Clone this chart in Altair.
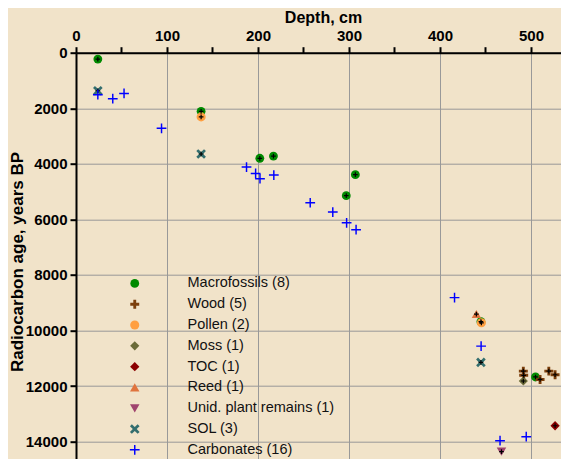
import altair as alt
import pandas as pd

# ---- data ----
series_names = ["Macrofossils", "Wood", "Pollen", "Moss", "TOC", "Reed",
                "Unid. plant remains", "SOL", "Carbonates"]

macro_depth = [24, 137.5, 202, 217, 307, 297, 445, 505]
macro_age = [230, 2110, 3800, 3720, 4390, 5145, 9680, 11670]
wood_depth = [491.6, 492, 510, 519.6, 526.5]
wood_age = [11460, 11610, 11760, 11460, 11590]
pollen_depth = [137.5, 445.5]
pollen_age = [2310, 9720]
moss_depth = [491.6]
moss_age = [11815]
toc_depth = [526.5]
toc_age = [13425]
reed_depth = [440]
reed_age = [9405]
unid_depth = [467.6]
unid_age = [14360]
sol_depth = [24, 137.5, 445]
sol_age = [1370, 3645, 11145]
carb_depth = [24, 40.4, 52.8, 94, 187.4, 197.4, 202.2, 217.4, 257.4, 282.2,
              297.4, 307.8, 416, 445.2, 494.8, 466]
carb_age = [1510, 1655, 1465, 2720, 4115, 4345, 4535, 4405, 5400, 5735,
            6120, 6370, 8815, 10560, 13820, 13965]

x_ticks = list(range(0, 501, 50))
y_ticks = list(range(0, 14001, 1000))

# ---- styles ----
colors = ["#008a00", "#7c3f0c", "#ff9f40", "#6b6b38", "#8b0000", "#e0743e",
          "#a0446e", "#336e6e", "#0000ff"]
plus_thin = "M-1,-0.15H-0.15V-1H0.15V-0.15H1V0.15H0.15V1H-0.15V0.15H-1Z"
plus_thick = "M-1,-0.32H-0.32V-1H0.32V-0.32H1V0.32H0.32V1H-0.32V0.32H-1Z"
x_thick = ("M-1,-0.6L-0.6,-1L0,-0.4L0.6,-1L1,-0.6L0.4,0L1,0.6L0.6,1L0,0.4"
           "L-0.6,1L-1,0.6L-0.4,0Z")
shapes = ["circle", plus_thick, "circle", "diamond", "diamond",
          "triangle-up", "triangle-down", x_thick, plus_thin]
sizes = [78, 95, 78, 64, 64, 64, 80, 75, 175]

depths = [macro_depth, wood_depth, pollen_depth, moss_depth, toc_depth,
          reed_depth, unid_depth, sol_depth, carb_depth]
ages = [macro_age, wood_age, pollen_age, moss_age, toc_age, reed_age,
        unid_age, sol_age, carb_age]

labels = [f"{n} ({len(d)})" for n, d in zip(series_names, depths)]
rows = []
for n, lab, ds, ags in zip(series_names, labels, depths, ages):
    for d, a in zip(ds, ags):
        rows.append({"series": lab, "depth": d, "age": a,
                     "carb": n == "Carbonates"})
df = pd.DataFrame(rows)

FONT = "Liberation Sans"

x_enc = alt.X(
    "depth:Q",
    scale=alt.Scale(domain=[0, 533], nice=False, zero=False),
    axis=alt.Axis(
        orient="top", values=x_ticks, format="d",
        labelExpr="datum.value % 100 === 0 ? datum.label : ''",
        gridOpacity={"condition": {"test": "datum.value % 100 !== 0", "value": 0}, "value": 1},
        title="Depth, cm", titleX=247, titleY=-30.5, titleBaseline="alphabetic",
        titleAlign="center", titleFontSize=16,
    ),
)
y_enc = alt.Y(
    "age:Q",
    scale=alt.Scale(domain=[0, 14622], reverse=True, nice=False, zero=False),
    axis=alt.Axis(
        orient="left", values=y_ticks, format="d",
        labelExpr="datum.value % 2000 === 0 ? datum.label : ''",
        gridOpacity={"condition": {"test": "datum.value % 2000 !== 0", "value": 0}, "value": 1},
        title="Radiocarbon age, years BP", titleX=-53.5, titleY=208.8,
        titleAngle=-90, titleAlign="center", titleBaseline="alphabetic",
        titleFontSize=17,
    ),
)

legend = alt.Legend(
    orient="none", legendX=51.5, legendY=223.5, title=None,
    labelFont=FONT, labelFontSize=14.5, labelColor="#111111",
    labelOffset=45.5, rowPadding=5.8, padding=0, labelLimit=300,
    symbolStrokeWidth=0,
)
color_enc = alt.Color("series:N", scale=alt.Scale(domain=labels, range=colors), legend=legend)
shape_enc = alt.Shape("series:N", scale=alt.Scale(domain=labels, range=shapes), legend=legend)
size_enc = alt.Size("series:N", scale=alt.Scale(domain=labels, range=sizes), legend=legend)

base = alt.Chart(df)

others = base.transform_filter("!datum.carb").mark_point(
    filled=True, opacity=1, strokeWidth=0
).encode(x=x_enc, y=y_enc, color=color_enc, shape=shape_enc, size=size_enc)

errs = base.transform_filter("!datum.carb").mark_point(
    filled=False, opacity=1, stroke="black", strokeWidth=1.2,
    shape="M-1,0H1M0,-1V1", size=22,
).encode(x="depth:Q", y="age:Q")

carbs = base.transform_filter("datum.carb").mark_point(
    filled=True, opacity=1, strokeWidth=0
).encode(x=x_enc, y=y_enc, color=color_enc, shape=shape_enc, size=size_enc)

chart = alt.layer(others, errs, carbs).properties(
    width=485, height=406.3,
    background="#f1e3c9",
    autosize=alt.AutoSizeParams(type="none"),
    padding={"left": 68, "top": 44.7, "right": 0, "bottom": 0},
).configure_view(stroke=None).configure_axis(
    domainColor="black", domainWidth=2, tickColor="black", tickWidth=2,
    tickSize=6, gridColor="#999999", gridWidth=1,
    labelFont=FONT, labelFontWeight="bold", labelFontSize=15,
    labelColor="black", labelPadding=3, labelFlush=False, labelOverlap=False,
    titleFont=FONT, titleFontWeight="bold",
    titleColor="black",
)

chart.save("out.html", embed_options={"renderer": "svg", "actions": False})
